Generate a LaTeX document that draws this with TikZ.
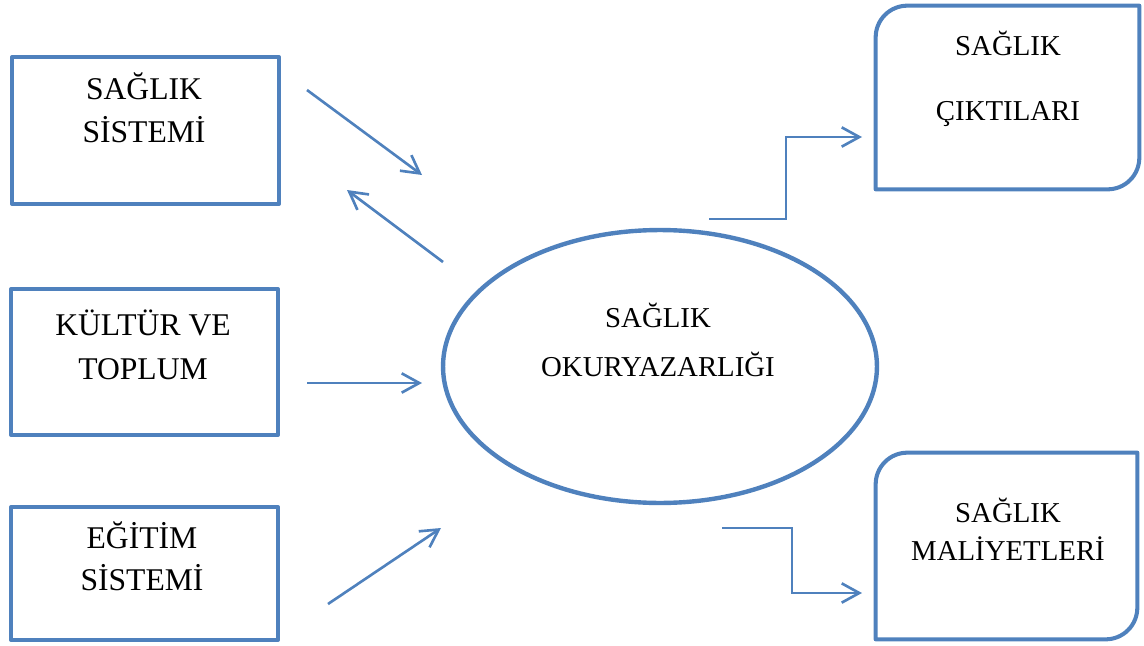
\documentclass[tikz,border=0pt]{standalone}
\usepackage{fontspec}
\setmainfont{Liberation Serif}
\usetikzlibrary{arrows.meta,shapes.geometric}
\definecolor{ofblue}{HTML}{4F81BD}
\begin{document}
\begin{tikzpicture}[x=0.02cm,y=-0.02cm,
  box/.style={draw=ofblue,line width=2.3pt,rectangle,inner sep=0pt,line join=round},
  rbox/.style={rectangle,inner sep=0pt,draw=none},
  rborder/.style={draw=ofblue,line width=2.3pt,line join=round},
  oval/.style={ellipse,draw=ofblue,line width=2.5pt,inner sep=0pt},
  bigtxt/.style={anchor=base,inner sep=0pt,font=\fontsize{18}{21}\selectfont},
  smalltxt/.style={anchor=base,inner sep=0pt,font=\fontsize{16.4}{20}\selectfont},
  conn/.style={draw=ofblue,line width=1.5pt,-{Straight Barb[length=10pt,width=11pt]}}
]
\useasboundingbox (0,0) rectangle (1144,646);

% left boxes
\node[box,minimum width=5.34cm,minimum height=2.94cm] (sis) at (145.5,130.5) {};
\node[box,minimum width=5.34cm,minimum height=2.92cm] (kul) at (144.5,362) {};
\node[box,minimum width=5.34cm,minimum height=2.66cm] (egi) at (144.5,573.5) {};

\node[bigtxt] (sis1) at (144,99) {SAĞLIK};
\node[bigtxt] (sis2) at (144,142) {SİSTEMİ};
\node[bigtxt] (kul1) at (143,335) {KÜLTÜR VE};
\node[bigtxt] (kul2) at (143,379) {TOPLUM};
\node[bigtxt] (egi1) at (142,548) {EĞİTİM};
\node[bigtxt] (egi2) at (142,590) {SİSTEMİ};

% ellipse
\node[oval,minimum width=8.68cm,minimum height=5.46cm] (ok) at (660,366.5) {};
\node[smalltxt] (ok1) at (658,327) {SAĞLIK};
\node[smalltxt] (ok2) at (658,376) {OKURYAZARLIĞI};

% right rounded boxes
\node[rbox,minimum width=5.26cm,minimum height=3.66cm] (cik) at (1007.5,97.5) {};
\draw[rborder] ([yshift=-18pt]cik.north west) arc[start angle=180,end angle=90,radius=18pt]
  -- (cik.north east) -- ([yshift=18pt]cik.south east) arc[start angle=0,end angle=-90,radius=18pt]
  -- (cik.south west) -- cycle;
\node[smalltxt] (cik1) at (1008,55) {SAĞLIK};
\node[smalltxt] (cik2) at (1008,120) {ÇIKTILARI};

\node[rbox,minimum width=5.22cm,minimum height=3.72cm] (mal) at (1006.5,546) {};
\draw[rborder] ([yshift=-18pt]mal.north west) arc[start angle=180,end angle=90,radius=18pt]
  -- (mal.north east) -- ([yshift=18pt]mal.south east) arc[start angle=0,end angle=-90,radius=18pt]
  -- (mal.south west) -- cycle;
\node[smalltxt] (mal1) at (1008,522) {SAĞLIK};
\node[smalltxt] (mal2) at (1008,560) {MALİYETLERİ};

% connector end points
\coordinate (s1) at (307,90);  \coordinate (t1) at (422,175);
\coordinate (s2) at (443,262); \coordinate (t2) at (347,190);
\coordinate (s3) at (307,383); \coordinate (t3) at (422,383);
\coordinate (s4) at (328,604); \coordinate (t4) at (441,528);
\coordinate (s5) at (709,219); \coordinate (k5) at (786,137); \coordinate (t5) at (862,137);
\coordinate (s6) at (722,528); \coordinate (k6) at (792,593); \coordinate (t6) at (862,593);

\draw[conn] (s1) -- (t1);
\draw[conn] (s2) -- (t2);
\draw[conn] (s3) -- (t3);
\draw[conn] (s4) -- (t4);
\draw[conn] (s5) -| (k5) -- (t5);
\draw[conn] (s6) -| (k6) -- (t6);
\end{tikzpicture}
\end{document}
